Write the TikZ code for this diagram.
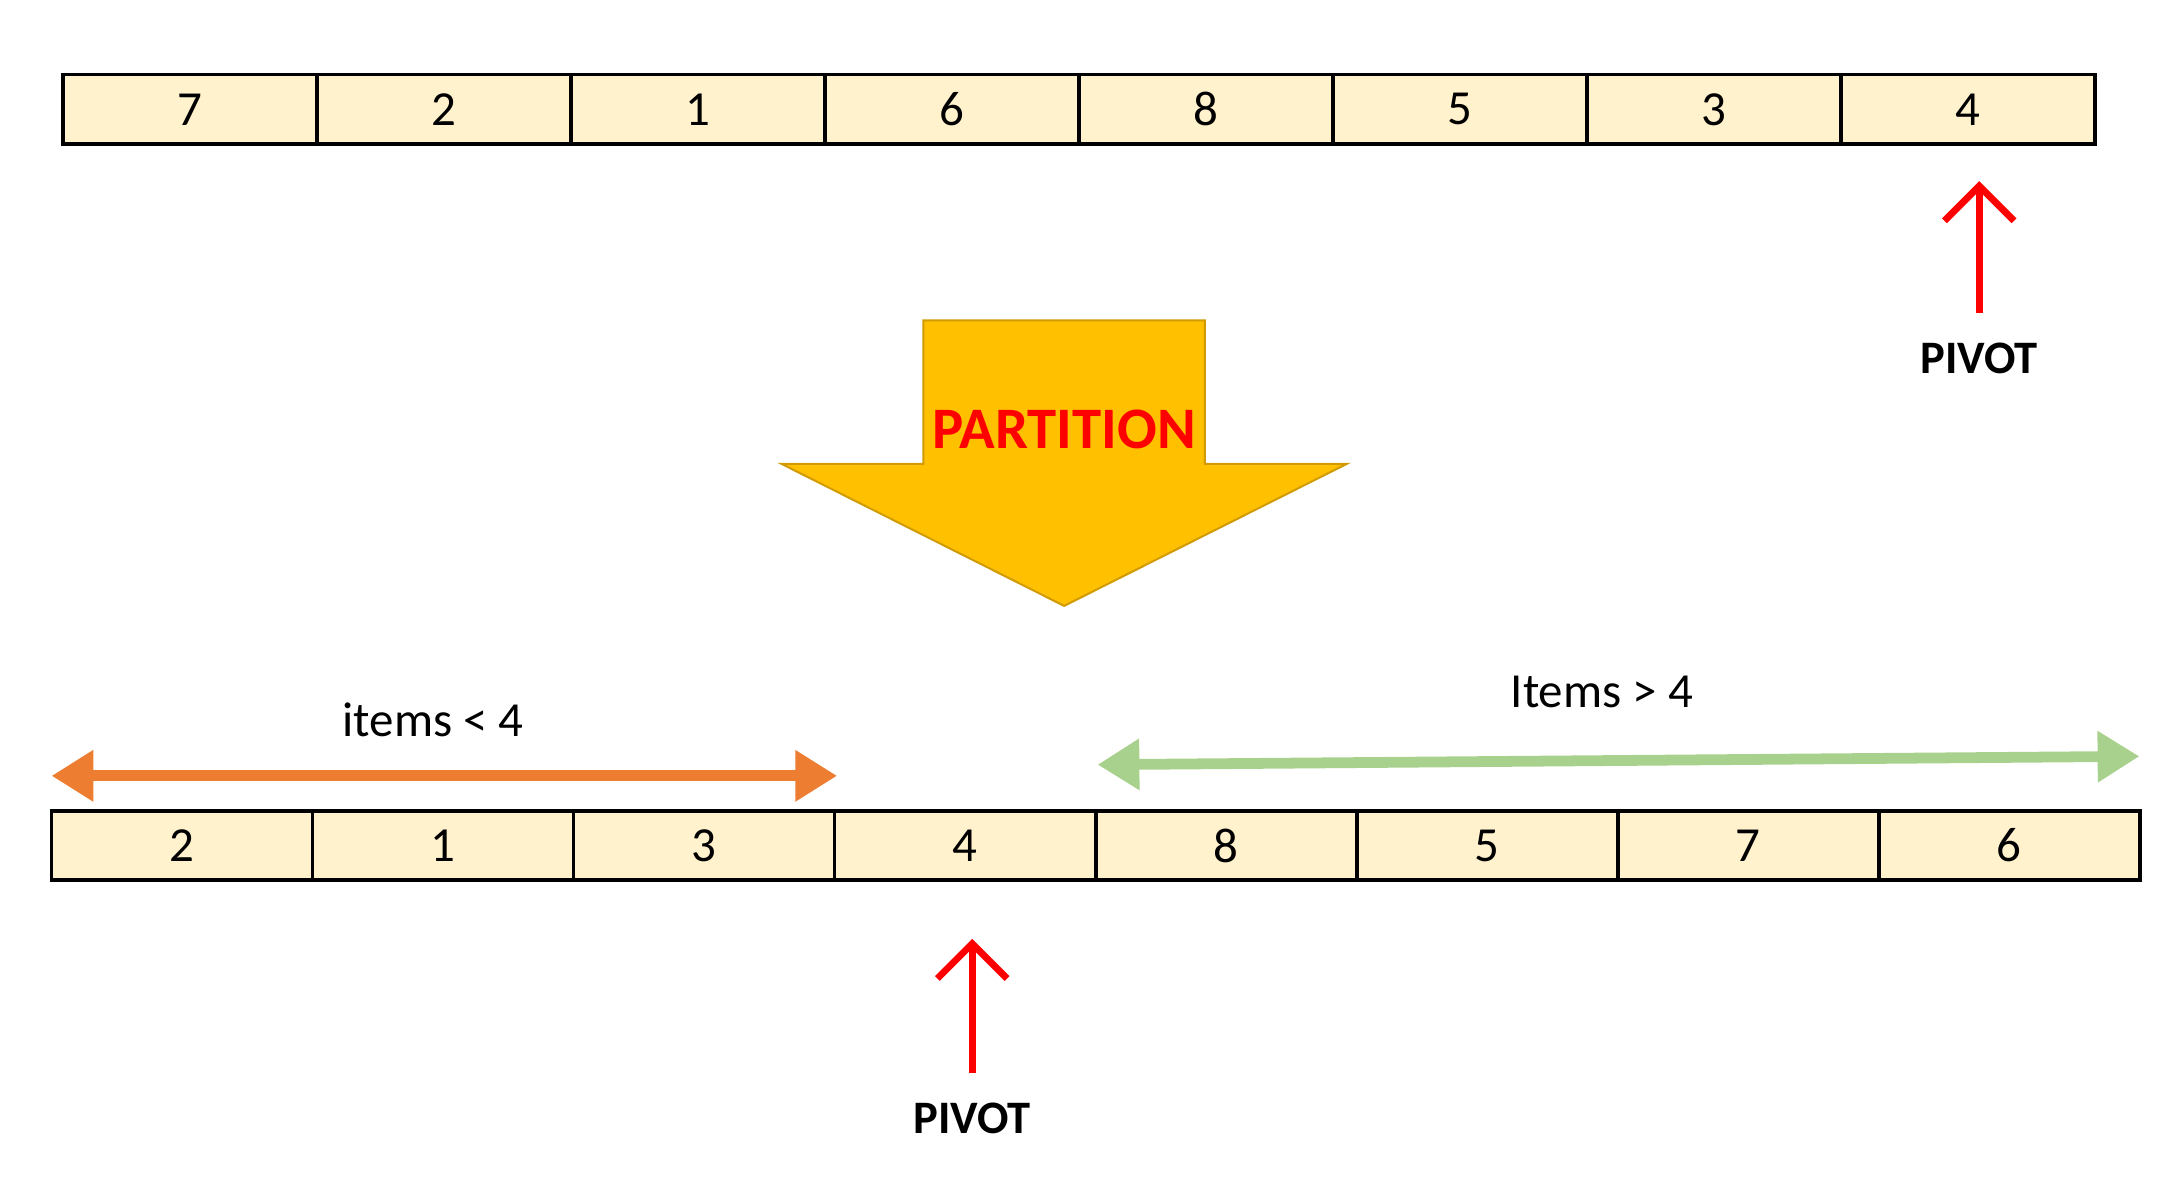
\documentclass[tikz,border=0pt]{standalone}
\usepackage{fontspec}
\setmainfont{Carlito}
\usetikzlibrary{arrows.meta}
\definecolor{cellfill}{HTML}{FFF2CC}
\definecolor{bigarrow}{HTML}{FFC000}
\definecolor{bigedge}{HTML}{D09A00}
\definecolor{leftarr}{HTML}{ED7D31}
\definecolor{rightarr}{HTML}{A9D18E}

\begin{document}
\begin{tikzpicture}[x=0.01cm, y=-0.01cm,
  cell/.style = {draw, thick, fill=cellfill, minimum height=0.5cm, inner sep=0pt, font=\fontsize{10}{12}\selectfont},
  pivot/.style = {draw=red, line width=1.4pt, -{Straight Barb[length=2.5mm, width=5mm]}},
  lbl/.style = {font=\fontsize{9.5}{11}\selectfont\bfseries}]

\useasboundingbox (0, 0) rectangle (1568, 857);

% top row
\foreach \v [count=\i from 0] in {7,2,1,6,8,5,3,4} {
  \node[cell, minimum width=1.824cm] (T\i) at (136.2+182.4*\i, 78.5) {\v};
}

\coordinate (tp1) at (1421, 225);
\coordinate (tp2) at (1421, 130);
\draw[pivot] (tp1) -- (tp2);
\node[lbl] (TP) at (1421, 257) {PIVOT};

% partition arrow
\draw[fill=bigarrow, draw=bigedge] (663, 230) -- (865, 230) -- (865, 333) -- (967, 333)
  -- (764, 435) -- (561, 333) -- (663, 333) -- cycle;
\node[lbl, text=red, font=\fontsize{12}{14}\selectfont\bfseries] (P) at (764, 308) {PARTITION};

% bottom row
\foreach \v [count=\i from 0] in {2,1,3,4,8,5,7,6} {
  \node[cell, minimum width=1.874cm] (B\i) at (130.7+187.4*\i, 607) {\v};
}

\coordinate (bp1) at (698, 770);
\coordinate (bp2) at (698, 674);
\draw[pivot] (bp1) -- (bp2);
\node[lbl] (BP) at (698, 803) {PIVOT};

% ranges
\coordinate (l1) at (37, 557);
\coordinate (l2) at (601, 557);
\draw[leftarr, line width=2.2pt, {Triangle[length=3mm, width=3.5mm]}-{Triangle[length=3mm, width=3.5mm]}] (l1) -- (l2);
\node[font=\fontsize{10}{12}\selectfont] (LL) at (311, 517) {items < 4};

\coordinate (r1) at (788, 549);
\coordinate (r2) at (1536, 543);
\draw[rightarr, line width=2.2pt, {Triangle[length=3mm, width=3.5mm]}-{Triangle[length=3mm, width=3.5mm]}] (r1) -- (r2);
\node[font=\fontsize{10}{12}\selectfont] (RL) at (1150, 497) {Items > 4};

\end{tikzpicture}
\end{document}
